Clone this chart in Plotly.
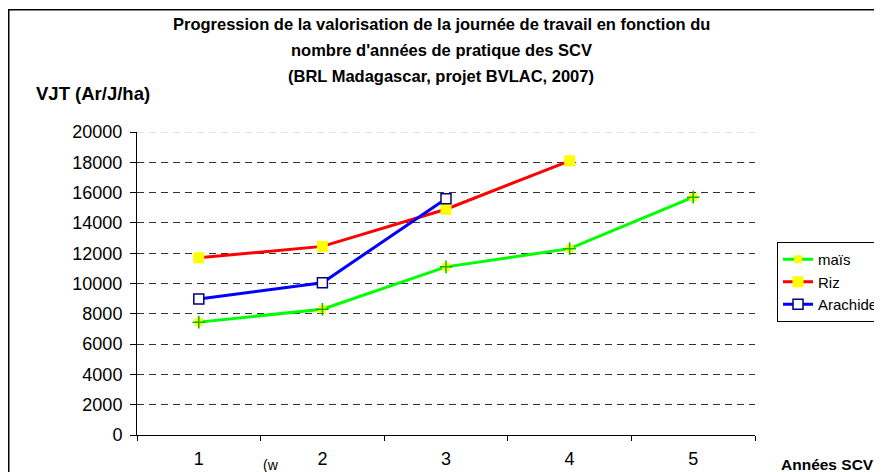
import plotly.graph_objects as go

# ---- data ----
years = [1, 2, 3, 4, 5]
year_labels = ["1", "2", "3", "4", "5"]
mais = [7450, 8300, 11100, 12300, 15700]
riz = [11700, 12450, 14900, 18100]
arachide = [8970, 10050, 15600]
y_ticks = [0, 2000, 4000, 6000, 8000, 10000, 12000, 14000, 16000, 18000, 20000]

FONT = "Arial, Liberation Sans, sans-serif"

# page body has an 8px margin: work in screen pixels, convert to figure pixels
OFF = 8
PL, PR, PT, PB = 137 - OFF, 755 - OFF, 132 - OFF, 435 - OFF
PW, PH = PR - PL, PB - PT


def px(x):
    return (x - OFF - PL) / PW


def py(y):
    return (PB - (y - OFF)) / PH


fig = go.Figure()

fig.add_trace(go.Scatter(
    x=years[:len(mais)], y=mais, name="maïs", mode="lines+markers",
    line=dict(color="#00ff00", width=3),
    marker=dict(symbol="square", size=8, color="#ffff00", line=dict(width=0)),
))
fig.add_trace(go.Scatter(
    x=years[:len(mais)], y=mais, mode="markers", showlegend=False, hoverinfo="skip",
    marker=dict(symbol="cross-thin-open", size=9, color="#00bb00",
                line=dict(color="#00bb00", width=1.5)),
))
fig.add_trace(go.Scatter(
    x=years[:len(riz)], y=riz, name="Riz", mode="lines+markers",
    line=dict(color="#ff0000", width=3),
    marker=dict(symbol="square", size=11, color="#ffff00", line=dict(width=0)),
))
fig.add_trace(go.Scatter(
    x=years[:len(arachide)], y=arachide, name="Arachide", mode="lines+markers",
    line=dict(color="#0000ff", width=3),
    marker=dict(symbol="square", size=10, color="#ffffff", line=dict(color="#000080", width=1.5)),
))

fig.update_layout(
    width=882, height=472,
    margin=dict(l=PL, r=882 - PR, t=PT, b=472 - PB, autoexpand=False),
    paper_bgcolor="white", plot_bgcolor="white",
    font=dict(family=FONT, size=16, color="black"),
    showlegend=True,
    legend=dict(
        xref="container", yref="container",
        x=(777 - OFF) / 882, y=1 - (242 - OFF) / 472, xanchor="left", yanchor="top",
        bordercolor="black", borderwidth=1, bgcolor="white",
        font=dict(family=FONT, size=15, color="black"),
        itemwidth=30, tracegroupgap=0,
    ),
)

fig.update_xaxes(
    range=[0.5, 5.5], tickmode="array", tickvals=years, ticktext=year_labels,
    ticks="", showgrid=False, zeroline=False,
    showline=True, linecolor="black", linewidth=1,
    tickfont=dict(family=FONT, size=18, color="black"),
    ticklabelstandoff=7,
    minor=dict(tickmode="array", tickvals=[0.5, 1.5, 2.5, 3.5, 4.5, 5.5],
               ticks="outside", ticklen=5, tickcolor="black", showgrid=False),
)
fig.update_yaxes(
    range=[0, 20000], tickmode="array", tickvals=y_ticks,
    ticktext=[str(v) for v in y_ticks],
    ticks="outside", ticklen=6, tickcolor="black",
    showline=True, linecolor="black", linewidth=1,
    showgrid=True, gridcolor="#333333", griddash="7px,5px", gridwidth=1,
    zeroline=False, ticklabelstandoff=4,
    tickfont=dict(family=FONT, size=18, color="black"),
)

# light top gridline (at the top of the value axis)
fig.add_shape(type="line", xref="paper", yref="y",
              x0=0, x1=1, y0=y_ticks[-1], y1=y_ticks[-1],
              line=dict(color="#d8d8d8", width=1.5, dash="7px,5px"), layer="below")

# outer chart border
fig.add_shape(type="rect", xref="paper", yref="paper",
              x0=px(8.75), y0=py(500), x1=px(900), y1=py(9.75),
              line=dict(color="black", width=1.5), fillcolor="rgba(0,0,0,0)", layer="below")

title_lines = [
    "Progression de la valorisation de la journée de travail en fonction du",
    "nombre d'années de pratique des SCV",
    "(BRL Madagascar, projet BVLAC, 2007)",
]
title_y = [24, 50, 76]
for t, ty in zip(title_lines, title_y):
    fig.add_annotation(text="<b>" + t + "</b>", xref="paper", yref="paper",
                       x=px(441), y=py(ty),
                       xanchor="center", yanchor="middle", showarrow=False,
                       font=dict(family=FONT, size=16.5, color="black"))

fig.add_annotation(text="<b>VJT (Ar/J/ha)</b>", xref="paper", yref="paper",
                   x=px(34), y=py(93),
                   xanchor="left", yanchor="middle", showarrow=False,
                   font=dict(family=FONT, size=18.5, color="black"))
fig.add_annotation(text="<b>Années SCV</b>", xref="paper", yref="paper",
                   x=px(779), y=py(464),
                   xanchor="left", yanchor="middle", showarrow=False,
                   font=dict(family=FONT, size=15.5, color="black"))
fig.add_annotation(text="(w", xref="paper", yref="paper",
                   x=px(261), y=py(465),
                   xanchor="left", yanchor="middle", showarrow=False,
                   font=dict(family=FONT, size=14, color="black"))

fig.write_html("out.html")
